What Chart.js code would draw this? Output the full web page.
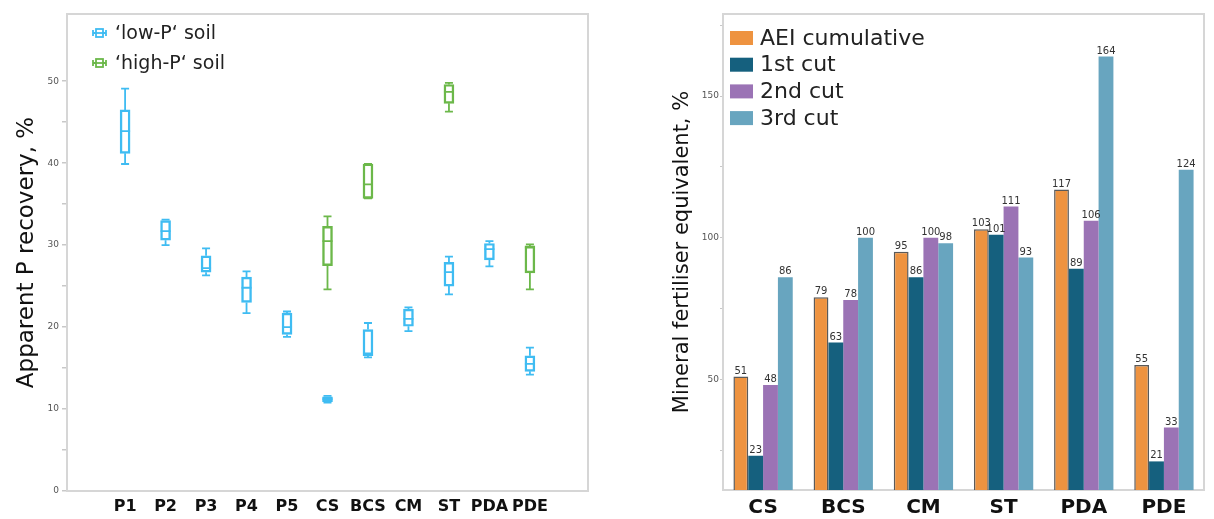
<!DOCTYPE html>
<html><head><meta charset="utf-8">
<script src="https://cdn.jsdelivr.net/npm/chart.js@4.4.1/dist/chart.umd.min.js"></script>
<style>
html,body{margin:0;padding:0;background:#fff;}
#wrap{position:relative;width:1214px;height:519px;overflow:hidden;background:#fff;}
#c1box{position:absolute;left:0;top:0;width:600px;height:519px;}
#c2box{position:absolute;left:640px;top:0;width:574px;height:519px;}
</style></head><body>
<div id="wrap">
<div id="c1box"><canvas id="c1" width="600" height="519"></canvas></div>
<div id="c2box"><canvas id="c2" width="574" height="519"></canvas></div>
</div>
<script>
// ---------- Left panel: apparent P recovery (box plots) ----------
const boxCategories = ['P1','P2','P3','P4','P5','CS','BCS','CM','ST','PDA','PDE'];
const lowLabel = '\u2018low-P\u2018 soil';
const highLabel = '\u2018high-P\u2018 soil';
const lowMin = [39.9, 30.0, 26.3, 21.7, 18.8, 10.8, 16.3, 19.5, 24.0, 27.4, 14.2];
const lowQ1  = [41.2, 30.6, 26.7, 23.0, 19.1, 10.9, 16.5, 20.1, 25.0, 28.2, 14.6];
const lowMed = [43.9, 31.7, 27.2, 24.8, 20.0, 11.2, 16.8, 21.0, 26.7, 29.5, 15.5];
const lowQ3  = [46.5, 33.0, 28.7, 26.1, 21.7, 11.5, 19.7, 22.2, 27.9, 30.2, 16.5];
const lowMax = [49.1, 33.1, 29.6, 26.8, 21.9, 11.6, 20.5, 22.4, 28.6, 30.5, 17.5];
const highMin = [null, null, null, null, null, 24.6, 35.7, null, 46.3, null, 24.6];
const highQ1  = [null, null, null, null, null, 27.5, 35.7, null, 47.3, null, 26.6];
const highMed = [null, null, null, null, null, 30.5, 37.4, null, 48.7, null, 29.7];
const highQ3  = [null, null, null, null, null, 32.3, 39.9, null, 49.6, null, 29.9];
const highMax = [null, null, null, null, null, 33.5, 39.9, null, 49.8, null, 30.1];
const boxYTicks = [0,5,10,15,20,25,30,35,40,45,50];

// ---------- Right panel: mineral fertiliser equivalent (bars) ----------
const barCategories = ['CS','BCS','CM','ST','PDA','PDE'];
const seriesNames = ['AEI cumulative','1st cut','2nd cut','3rd cut'];
const aeiCumulative = [51, 79, 95, 103, 117, 55];
const cut1 = [23, 63, 86, 101, 89, 21];
const cut2 = [48, 78, 100, 111, 106, 33];
const cut3 = [86, 100, 98, 93, 164, 124];
const barYTicks = [25,50,75,100,125,150,175];

const FONT = "'DejaVu Sans', 'Open Sans', sans-serif";
const BLUE = '#3fbcf2', GREEN = '#6cb84a';
const BAR_COLORS = ['#ee9340','#15607e','#9b73b5','#68a5bf'];

function boxData(q1, q3){
  const out = [];
  q1.forEach((v,i)=>{ if(v!=null) out.push({x:i, y:[v, q3[i]]}); });
  return out;
}

const framePlugin = {
  id:'frame',
  beforeDatasetsDraw(chart){
    const {ctx, chartArea:a} = chart;
    ctx.save();
    ctx.strokeStyle = '#d6d6d6'; ctx.lineWidth = 2;
    ctx.strokeRect(a.left, a.top, a.right-a.left, a.bottom-a.top);
    ctx.restore();
  }
};

const whiskerPlugin = {
  id:'whiskers',
  afterDatasetsDraw(chart, args, opts){
    const {ctx, scales:{x,y}} = chart;
    opts.series.forEach(s=>{
      ctx.save();
      ctx.strokeStyle = s.color; ctx.lineWidth = 1.8; ctx.lineCap='butt';
      s.min.forEach((mn,i)=>{
        if(mn==null) return;
        const px = x.getPixelForValue(i);
        const yMin=y.getPixelForValue(mn), yQ1=y.getPixelForValue(s.q1[i]),
              yMed=y.getPixelForValue(s.med[i]), yQ3=y.getPixelForValue(s.q3[i]),
              yMax=y.getPixelForValue(s.max[i]);
        const hw=5, cw=4;
        ctx.beginPath();
        ctx.moveTo(px,yQ1); ctx.lineTo(px,yMin);
        ctx.moveTo(px-cw,yMin); ctx.lineTo(px+cw,yMin);
        ctx.moveTo(px,yQ3); ctx.lineTo(px,yMax);
        ctx.moveTo(px-cw,yMax); ctx.lineTo(px+cw,yMax);
        ctx.moveTo(px-hw,yMed); ctx.lineTo(px+hw,yMed);
        ctx.stroke();
      });
      ctx.restore();
    });
  }
};

const insideLegendPlugin = {
  id:'insideLegend',
  afterDraw(chart, args, o){
    const {ctx, chartArea:a} = chart;
    ctx.save();
    ctx.font = o.font; ctx.textBaseline='middle'; ctx.textAlign='left'; ctx.fillStyle='#222';
    chart.data.datasets.forEach((ds,i)=>{
      const cy = a.top + o.top + i*o.rowGap;
      const ix = a.left + o.left;
      if(o.kind==='box'){
        const c = ds.borderColor;
        ctx.strokeStyle=c; ctx.lineWidth=1.8;
        ctx.beginPath();
        ctx.moveTo(ix, cy-3); ctx.lineTo(ix, cy+3);
        ctx.moveTo(ix+13, cy-3); ctx.lineTo(ix+13, cy+3);
        ctx.moveTo(ix, cy); ctx.lineTo(ix+3, cy);
        ctx.moveTo(ix+10, cy); ctx.lineTo(ix+13, cy);
        ctx.stroke();
        ctx.strokeRect(ix+3, cy-4, 7, 8);
        ctx.beginPath(); ctx.moveTo(ix+3, cy); ctx.lineTo(ix+10, cy); ctx.stroke();
      } else {
        ctx.fillStyle = ds.backgroundColor;
        ctx.fillRect(ix, cy-7, 23, 14);
      }
      ctx.fillStyle='#222';
      ctx.fillText(ds.label, ix + o.textOffset, cy+1);
    });
    ctx.restore();
  }
};

const valueLabelPlugin = {
  id:'valueLabels',
  afterDatasetsDraw(chart){
    const {ctx} = chart;
    ctx.save();
    ctx.font = "10px " + FONT; ctx.fillStyle='#333'; ctx.textAlign='center'; ctx.textBaseline='bottom';
    chart.data.datasets.forEach((ds,di)=>{
      chart.getDatasetMeta(di).data.forEach((bar,i)=>{
        ctx.fillText(String(ds.data[i]), bar.x, bar.y-0.5);
      });
    });
    ctx.restore();
  }
};

new Chart(document.getElementById('c1'), {
  type:'bar',
  data:{ datasets:[
    {label:lowLabel, data:boxData(lowQ1, lowQ3), borderColor:BLUE, backgroundColor:'rgba(255,255,255,0)', borderWidth:1.8, borderSkipped:false, barThickness:10, grouped:false},
    {label:highLabel, data:boxData(highQ1, highQ3), borderColor:GREEN, backgroundColor:'rgba(255,255,255,0)', borderWidth:1.8, borderSkipped:false, barThickness:10, grouped:false}
  ]},
  options:{
    responsive:false, animation:false, devicePixelRatio:1,
    layout:{padding:{top:14, right:12, left:0, bottom:0}},
    plugins:{
      legend:{display:false}, tooltip:{enabled:false},
      whiskers:{series:[
        {color:BLUE, min:lowMin, q1:lowQ1, med:lowMed, q3:lowQ3, max:lowMax},
        {color:GREEN, min:highMin, q1:highQ1, med:highMed, q3:highQ3, max:highMax}
      ]},
      insideLegend:{kind:'box', font:"19px "+FONT, top:19, left:26, rowGap:30, textOffset:22}
    },
    scales:{
      x:{type:'linear', min:-0.85, max:10.85,
        afterBuildTicks(s){ s.ticks = boxCategories.map((_,i)=>({value:i})); },
        afterFit(s){ s.height = 28; },
        ticks:{autoSkip:false, maxRotation:0, padding:-2, color:'#111', font:{family:FONT, size:16, weight:'bold'},
          callback:(v)=>boxCategories[v] ?? ''},
        grid:{display:false}, border:{display:false}},
      y:{min:0, max:58.2,
        afterBuildTicks(s){ s.ticks = boxYTicks.map(v=>({value:v})); },
        afterFit(s){ s.width = 67; },
        ticks:{autoSkip:false, padding:3, color:'#555', font:{family:FONT, size:9}, callback:(v)=> v%10===0 ? String(v) : ''},
        grid:{display:true, drawOnChartArea:false, drawTicks:true, tickLength:5, color:'#c8c8c8', lineWidth:1.5},
        border:{display:false},
        title:{display:true, text:'Apparent P recovery, %', color:'#111', font:{family:FONT, size:23}, padding:{top:13, bottom:0}}}
    }
  },
  plugins:[framePlugin, whiskerPlugin, insideLegendPlugin]
});

const barSeries = [aeiCumulative, cut1, cut2, cut3];
new Chart(document.getElementById('c2'), {
  type:'bar',
  data:{ labels:barCategories, datasets: barSeries.map((d,i)=>({
    label:seriesNames[i], data:d, backgroundColor:BAR_COLORS[i],
    borderColor: i===0 ? '#5a5a5a' : BAR_COLORS[i], borderWidth: i===0 ? 1.5 : 0, borderSkipped:'bottom',
    categoryPercentage:0.74, barPercentage:1.0 }))},
  options:{
    responsive:false, animation:false, devicePixelRatio:1,
    layout:{padding:{top:14, right:10, left:0, bottom:0}},
    plugins:{ legend:{display:false}, tooltip:{enabled:false},
      insideLegend:{kind:'rect', font:"22px "+FONT, top:24, left:7, rowGap:26.7, textOffset:30} },
    scales:{
      x:{ afterFit(s){ s.height = 29; },
        ticks:{padding:-2, color:'#111', font:{family:FONT, size:20, weight:'bold'}},
        grid:{display:false}, border:{display:false}},
      y:{ min:10.9, max:179,
        afterBuildTicks(s){ s.ticks = barYTicks.map(v=>({value:v})); },
        afterFit(s){ s.width = 83; },
        ticks:{autoSkip:false, padding:1, color:'#555', font:{family:FONT, size:9}, callback:(v)=> v%50===0 ? String(v) : ''},
        grid:{display:true, drawOnChartArea:false, drawTicks:true, tickLength:3, color:'#c8c8c8', lineWidth:1},
        border:{display:false},
        title:{display:true, text:'Mineral fertiliser equivalent, %', color:'#111', font:{family:FONT, size:21}, padding:{top:30, bottom:0}}}
    }
  },
  plugins:[framePlugin, valueLabelPlugin, insideLegendPlugin]
});
</script>
</body></html>
